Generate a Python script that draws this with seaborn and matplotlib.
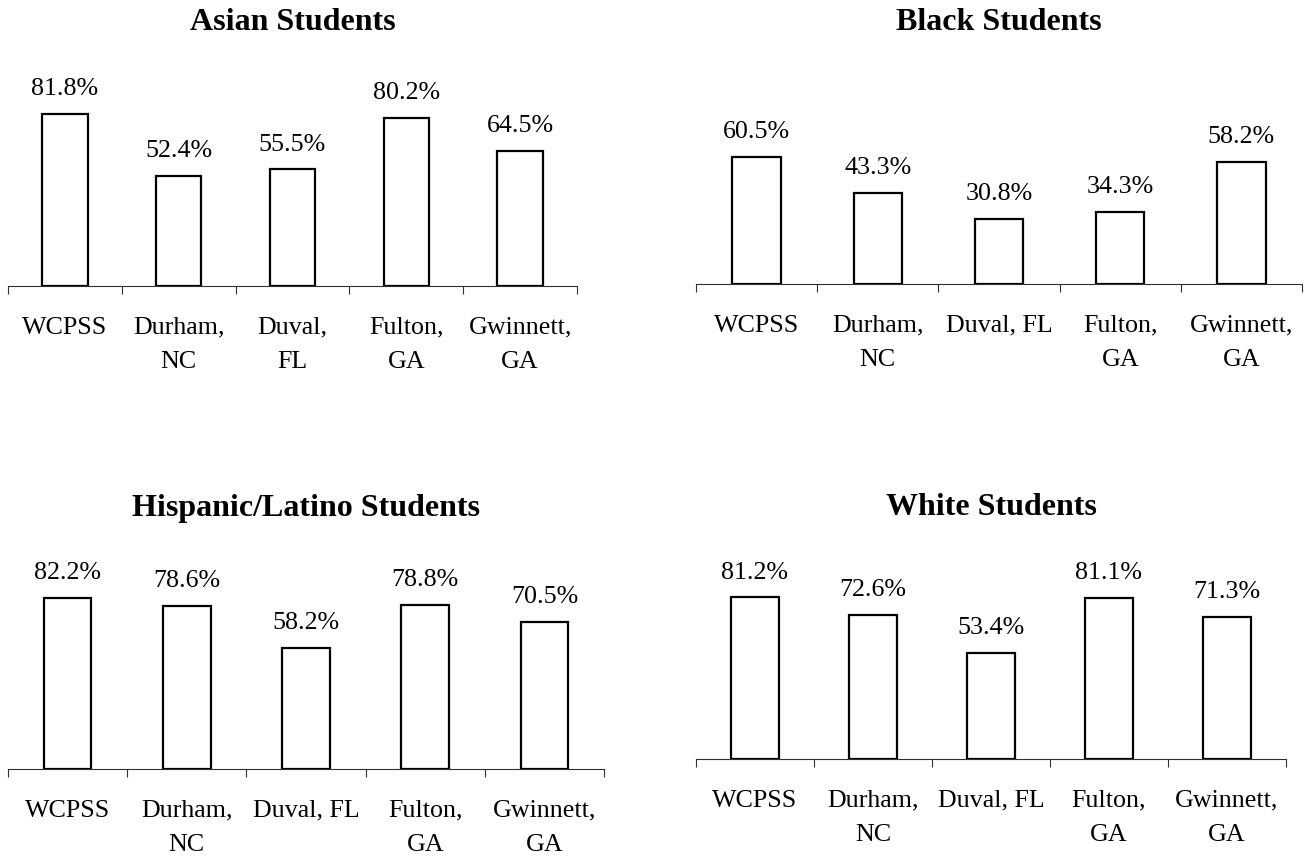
import matplotlib
matplotlib.use("Agg")
import matplotlib.pyplot as plt
import seaborn as sns
import pandas as pd
from matplotlib.ticker import FixedLocator, NullFormatter

# ---- data ----
districts = ["WCPSS", "Durham, NC", "Duval, FL", "Fulton, GA", "Gwinnett, GA"]
asian_pct = [81.8, 52.4, 55.5, 80.2, 64.5]
black_pct = [60.5, 43.3, 30.8, 34.3, 58.2]
hispanic_pct = [82.2, 78.6, 58.2, 78.8, 70.5]
white_pct = [81.2, 72.6, 53.4, 81.1, 71.3]
titles = ["Asian Students", "Black Students", "Hispanic/Latino Students", "White Students"]
labels_narrow = ["WCPSS", "Durham,\nNC", "Duval,\nFL", "Fulton,\nGA", "Gwinnett,\nGA"]
labels_wide = ["WCPSS", "Durham,\nNC", "Duval, FL", "Fulton,\nGA", "Gwinnett,\nGA"]

W, H = 1314, 859
DPI = 100
sns.set_style("white")
plt.rcParams['font.family'] = ['Liberation Serif', 'DejaVu Serif']
plt.rcParams['text.color'] = 'black'
plt.rcParams['xtick.color'] = 'black'
plt.rcParams['xtick.labelcolor'] = 'black'

fig = plt.figure(figsize=(W / DPI, H / DPI), dpi=DPI)
fig.patch.set_facecolor("white")

# layout in pixels: left, right, baseline (from top), axes height for 0-100, title baseline (from top)
panels = [
    (asian_pct, titles[0], labels_narrow, 8, 577, 286, 210, 30),
    (black_pct, titles[1], labels_wide, 696, 1302, 284, 210, 30),
    (hispanic_pct, titles[2], labels_wide, 8, 604, 769, 208, 516),
    (white_pct, titles[3], labels_wide, 696, 1286, 759, 199, 515),
]

axis_col = "#303030"
for vals, title, ticklabels, l, r, base, hpx, tb in panels:
    ax = fig.add_axes([l / W, (H - base) / H, (r - l) / W, hpx / H])
    df = pd.DataFrame({"district": districts, "pct": vals})
    sns.barplot(data=df, x="district", y="pct", ax=ax, color="white",
                edgecolor="black", linewidth=1.6, width=0.4, saturation=1)
    ax.set_ylim(0, 100)
    n = len(districts)
    ax.set_xlim(-0.5, n - 0.5)
    ax.xaxis.set_major_locator(FixedLocator([i - 0.5 for i in range(n + 1)]))
    ax.xaxis.set_major_formatter(NullFormatter())
    ax.set_xticks(list(range(n)), labels=ticklabels, minor=True,
                  linespacing=1.75, multialignment="center", color="black")
    ax.tick_params(axis="x", which="major", bottom=True, length=5.8, width=0.8,
                   color=axis_col, direction="out")
    ax.tick_params(axis="x", which="minor", bottom=True, length=0, pad=22,
                   labelsize=18.7, labelcolor="black")
    ax.set_yticks([])
    ax.set_xlabel("")
    ax.set_ylabel("")
    for s in ["left", "top", "right"]:
        ax.spines[s].set_visible(False)
    ax.spines["bottom"].set_color(axis_col)
    ax.spines["bottom"].set_linewidth(0.8)
    ax.set_facecolor("none")
    ax.bar_label(ax.containers[0], labels=[f"{v:.1f}%" for v in vals],
                 padding=10, fontsize=18.7, color="black")
    fig.text(((l + r) / 2) / W, (H - tb) / H, title, ha="center", va="baseline",
             fontsize=23, fontweight="bold", color="black")

fig.savefig("out.png", dpi=DPI, facecolor="white")
